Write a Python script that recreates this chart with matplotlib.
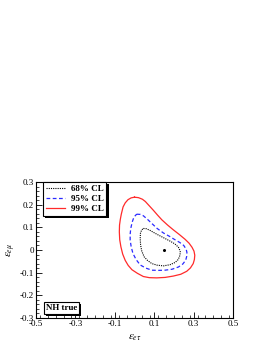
import matplotlib
matplotlib.use("Agg")
import matplotlib.pyplot as plt
import matplotlib.patheffects as pe
from matplotlib.ticker import MultipleLocator, FixedLocator

plt.rcParams['font.family'] = ['Liberation Serif', 'DejaVu Serif']
plt.rcParams['mathtext.fontset'] = 'stix'

# contour data
cl99_x = [0.000, 0.020, 0.040, 0.055, 0.075, 0.096, 0.118, 0.139, 0.168, 0.197, 0.228, 0.257, 0.277, 0.292,
          0.302, 0.306, 0.304, 0.298, 0.284, 0.265, 0.235, 0.197, 0.155, 0.113, 0.075, 0.045, 0.015, -0.013,
          -0.032, -0.047, -0.060, -0.069, -0.075, -0.077, -0.076, -0.072, -0.067, -0.058, -0.047, -0.033,
          -0.017, 0.000]
cl99_y = [0.233, 0.231, 0.224, 0.214, 0.195, 0.175, 0.153, 0.133, 0.110, 0.089, 0.068, 0.047, 0.030, 0.012,
          -0.005, -0.023, -0.042, -0.060, -0.079, -0.094, -0.107, -0.115, -0.121, -0.123, -0.122, -0.117,
          -0.103, -0.087, -0.068, -0.046, -0.018, 0.014, 0.045, 0.080, 0.110, 0.135, 0.158, 0.190, 0.208,
          0.222, 0.230, 0.233]

cl95_x = [0.011, 0.030, 0.045, 0.065, 0.088, 0.115, 0.147, 0.178, 0.206, 0.230, 0.250, 0.262, 0.266, 0.265,
          0.260, 0.245, 0.223, 0.190, 0.155, 0.120, 0.088, 0.058, 0.029, 0.008, -0.008, -0.017, -0.022,
          -0.022, -0.019, -0.012, -0.003, 0.011]
cl95_y = [0.158, 0.157, 0.151, 0.136, 0.117, 0.095, 0.075, 0.060, 0.045, 0.033, 0.020, 0.004, -0.010, -0.028,
          -0.045, -0.062, -0.075, -0.085, -0.089, -0.090, -0.089, -0.080, -0.066, -0.042, -0.015, 0.015,
          0.044, 0.070, 0.095, 0.122, 0.145, 0.158]

cl68_x = [0.045, 0.060, 0.080, 0.100, 0.121, 0.150, 0.181, 0.205, 0.223, 0.232, 0.231, 0.222, 0.206, 0.180,
          0.147, 0.115, 0.088, 0.066, 0.049, 0.037, 0.031, 0.029, 0.030, 0.036, 0.045]
cl68_y = [0.095, 0.094, 0.086, 0.076, 0.066, 0.053, 0.039, 0.027, 0.012, -0.005, -0.023, -0.042, -0.055,
          -0.065, -0.070, -0.067, -0.060, -0.046, -0.030, -0.005, 0.021, 0.050, 0.073, 0.088, 0.095]

best_x = [0.15]
best_y = [0.0]

labels = ["68% CL", "95% CL", "99% CL"]
x_ticks = [-0.5, -0.3, -0.1, 0.1, 0.3, 0.5]
y_ticks = [-0.3, -0.2, -0.1, 0.0, 0.1, 0.2, 0.3]

fig = plt.figure(figsize=(2.66, 3.44), dpi=100)
ax = fig.add_axes([36/266, 1 - 318/344, 197/266, 136/344])

l68, = ax.plot(cl68_x, cl68_y, color='black', ls=(0, (1, 1)), lw=0.8)
l95, = ax.plot(cl95_x, cl95_y, color='#2a2aff', ls=(0, (3, 2)), lw=0.9)
l99, = ax.plot(cl99_x, cl99_y, color='#ff2a2a', ls='-', lw=0.9)
ax.plot(best_x, best_y, 'o', color='black', ms=1.2)

ax.set_xlim(-0.5, 0.5)
ax.set_ylim(-0.3, 0.3)
ax.xaxis.set_major_locator(FixedLocator(x_ticks))
ax.xaxis.set_minor_locator(MultipleLocator(0.04))
ax.yaxis.set_major_locator(FixedLocator(y_ticks))
ax.yaxis.set_minor_locator(MultipleLocator(0.02))
ax.set_xticklabels([f"{v:g}" for v in x_ticks])
ax.set_yticklabels([f"{v:g}" for v in y_ticks])
ax.tick_params(which='both', direction='in', top=False, right=False, labelsize=6.5, pad=1.5)
ax.tick_params(which='major', length=4, width=0.6)
ax.tick_params(which='minor', length=2, width=0.5)
for s in ax.spines.values():
    s.set_linewidth(0.8)

ax.set_xlabel(r'$\varepsilon_{e\tau}$', fontsize=8, labelpad=3)
ax.set_ylabel(r'$\varepsilon_{e\mu}$', fontsize=8, labelpad=1)

leg = ax.legend([l68, l95, l99], labels, loc='upper left', bbox_to_anchor=(0.035, 1.0),
                borderaxespad=0, frameon=True, fancybox=False, framealpha=1,
                prop={'family': 'Liberation Serif', 'weight': 'bold', 'size': 6.5},
                handlelength=2.2, handletextpad=0.6, labelspacing=0.2, borderpad=0.3)
leg.get_frame().set_edgecolor('black')
leg.get_frame().set_facecolor('white')
leg.get_frame().set_linewidth(0.8)
leg.get_frame().set_path_effects([pe.SimplePatchShadow(offset=(1.5, -1.5), shadow_rgbFace='black', alpha=1), pe.Normal()])

t = ax.text(0.05, 0.075, 'NH true', transform=ax.transAxes, fontsize=6.5, fontweight='bold',
            ha='left', va='center',
            bbox=dict(boxstyle='square,pad=0.2', fc='white', ec='black', lw=0.8))
t.get_bbox_patch().set_path_effects([pe.SimplePatchShadow(offset=(1.5, -1.5), shadow_rgbFace='black', alpha=1), pe.Normal()])

fig.savefig('out.png', dpi=100)
